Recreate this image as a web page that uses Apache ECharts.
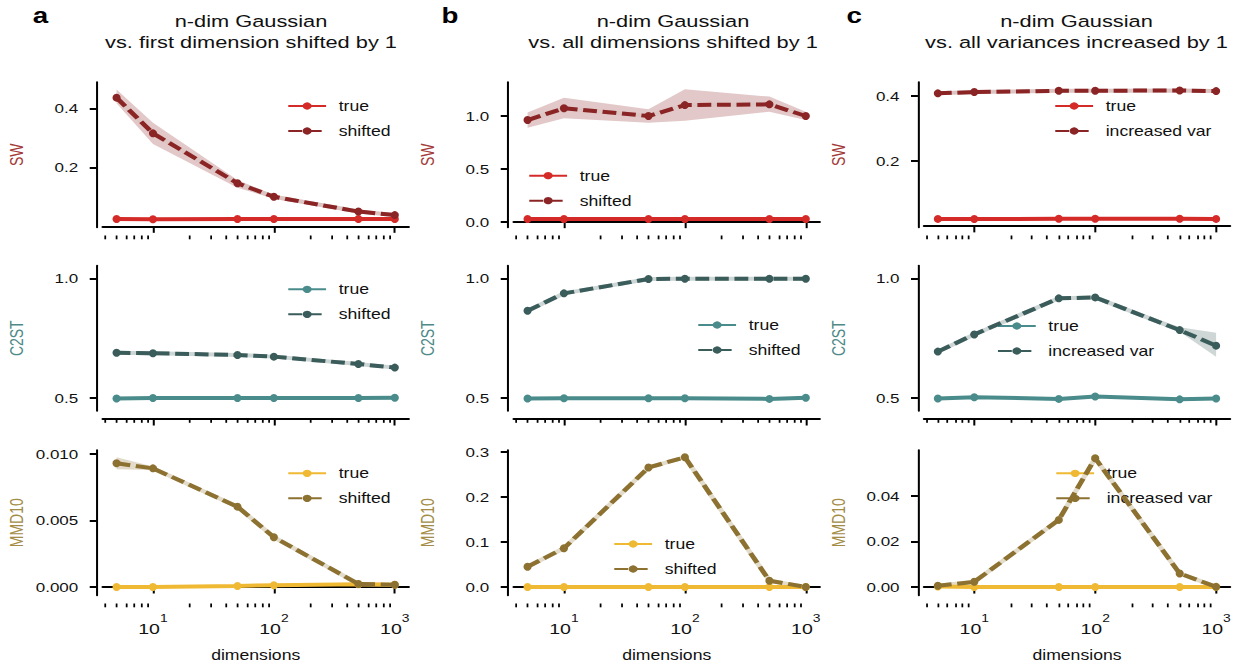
<!DOCTYPE html>
<html><head><meta charset="utf-8">
<script src="https://cdn.jsdelivr.net/npm/echarts@6/dist/echarts.min.js"></script>
<style>
html,body{margin:0;padding:0;background:#fff;overflow:hidden;}
#wrap{width:1239px;height:670px;overflow:hidden;position:relative;background:#fff;}
#chart{width:983px;height:670px;transform:scaleX(1.26043);transform-origin:0 0;}
</style></head><body><div id="wrap"><div id="chart"></div></div>
<script>
// ---------- data ----------
const dims = [5, 10, 50, 100, 500, 1000];
const majorTicks = [10, 100, 1000];
const minorTicks = [4,5,6,7,8,9,20,30,40,50,60,70,80,90,200,300,400,500,600,700,800,900];

const titles = [
  'n-dim Gaussian\nvs. first dimension shifted by 1',
  'n-dim Gaussian\nvs. all dimensions shifted by 1',
  'n-dim Gaussian\nvs. all variances increased by 1'
];
const panelLetters = ['a', 'b', 'c'];
const metricNames = ['SW', 'C2ST', 'MMD10'];
const legendLabels = [['true', 'shifted'], ['true', 'shifted'], ['true', 'increased var']];

// SW
const swTrueA = [0.025, 0.024, 0.025, 0.025, 0.025, 0.025];
const swShiftA = [0.436, 0.315, 0.146, 0.100, 0.050, 0.038];
const swShiftLoA = [0.417, 0.279, 0.131, 0.093, 0.045, 0.035];
const swShiftHiA = [0.464, 0.351, 0.157, 0.106, 0.054, 0.041];
const swTrueB = [0.025, 0.025, 0.025, 0.025, 0.025, 0.025];
const swShiftB = [0.959, 1.070, 0.997, 1.100, 1.107, 0.997];
const swShiftLoB = [0.887, 0.975, 0.934, 0.953, 1.038, 0.960];
const swShiftHiB = [1.030, 1.170, 1.060, 1.250, 1.180, 1.038];
const swTrueC = [0.0215, 0.021, 0.022, 0.022, 0.022, 0.0215];
const swIncC = [0.408, 0.412, 0.416, 0.416, 0.417, 0.415];
const swIncLoC = [0.404, 0.408, 0.412, 0.412, 0.413, 0.411];
const swIncHiC = [0.412, 0.416, 0.420, 0.420, 0.421, 0.419];
// C2ST
const c2stTrueA = [0.497, 0.499, 0.499, 0.499, 0.499, 0.500];
const c2stShiftA = [0.688, 0.686, 0.679, 0.672, 0.641, 0.626];
const c2stShiftLoA = [0.683, 0.682, 0.675, 0.668, 0.637, 0.621];
const c2stShiftHiA = [0.693, 0.690, 0.683, 0.676, 0.645, 0.631];
const c2stTrueB = [0.497, 0.498, 0.498, 0.498, 0.495, 0.500];
const c2stShiftB = [0.864, 0.937, 0.997, 0.998, 0.998, 0.998];
const c2stShiftLoB = [0.858, 0.932, 0.995, 0.997, 0.997, 0.997];
const c2stShiftHiB = [0.870, 0.942, 0.999, 0.999, 0.999, 0.999];
const c2stTrueC = [0.497, 0.502, 0.495, 0.505, 0.493, 0.497];
const c2stIncC = [0.693, 0.765, 0.916, 0.920, 0.783, 0.718];
const c2stIncLoC = [0.688, 0.760, 0.911, 0.915, 0.776, 0.672];
const c2stIncHiC = [0.698, 0.770, 0.921, 0.925, 0.795, 0.772];
// MMD10
const mmdTrueA = [0.0, 0.0, 0.00008, 0.00013, 0.0002, 0.00017];
const mmdShiftA = [0.0093, 0.00892, 0.00604, 0.00374, 0.00023, 0.00017];
const mmdShiftLoA = [0.00885, 0.0088, 0.00595, 0.00365, 0.0002, 0.00015];
const mmdShiftHiA = [0.00975, 0.00905, 0.00613, 0.00383, 0.00027, 0.0002];
const mmdTrueB = [0.0, 0.0, 0.0, 0.0, 0.0, 0.0];
const mmdShiftB = [0.045, 0.086, 0.265, 0.288, 0.014, 0.0];
const mmdShiftLoB = [0.043, 0.084, 0.262, 0.285, 0.012, 0.0];
const mmdShiftHiB = [0.047, 0.088, 0.268, 0.291, 0.016, 0.001];
const mmdTrueC = [0.0002, 0.0, 0.0, 0.0, 0.0, 0.0];
const mmdIncC = [0.0006, 0.0023, 0.0295, 0.0566, 0.006, 0.0001];
const mmdIncLoC = [0.0003, 0.0019, 0.0291, 0.0562, 0.0056, 0.0];
const mmdIncHiC = [0.0009, 0.0027, 0.0299, 0.0570, 0.0064, 0.0003];

// y tick labels
const swTicksA = [0.2, 0.4];
const swTicksB = [0.0, 0.5, 1.0];
const swTicksC = [0.2, 0.4];
const c2stTicks = [0.5, 1.0];
const mmdTicksA = [0.0, 0.005, 0.010];
const mmdTicksB = [0.0, 0.1, 0.2, 0.3];
const mmdTicksC = [0.0, 0.02, 0.04];

// ---------- layout / style ----------
const S = 1239 / 983;
const X = v => v / S;
const FONT = 'Liberation Sans, Arial, Helvetica, sans-serif';
const colLeft = [102.7, 513.7, 924];
const gridW = 306;
const rowTop = [82, 265.5, 450];
const gridH = 145.5;
const LW = 4;
const rowStyle = [
  {trueC: '#d42b28', shiftC: '#8b2424', band: 'rgba(139,36,36,0.25)', halo: '#dcc4c3', label: '#a33b38'},
  {trueC: '#4a8c8b', shiftC: '#3a5c5a', band: 'rgba(58,92,90,0.25)', halo: '#cdd6d5', label: '#4f8a89'},
  {trueC: '#f0b933', shiftC: '#8c7130', band: 'rgba(140,113,48,0.25)', halo: '#e3dccb', label: '#a38c45'}
];
const panels = [
  [
    {t: swTrueA, s: swShiftA, lo: swShiftLoA, hi: swShiftHiA, min: -0.004, max: 0.489, ticks: swTicksA, dec: 1, lg: [287, 106]},
    {t: swTrueB, s: swShiftB, lo: swShiftLoB, hi: swShiftHiB, min: -0.055, max: 1.318, ticks: swTicksB, dec: 1, lg: [528, 175.7]},
    {t: swTrueC, s: swIncC, lo: swIncLoC, hi: swIncHiC, min: -0.005, max: 0.443, ticks: swTicksC, dec: 1, lg: [1054, 106]}
  ],
  [
    {t: c2stTrueA, s: c2stShiftA, lo: c2stShiftLoA, hi: c2stShiftHiA, min: 0.4443, max: 1.0536, ticks: c2stTicks, dec: 1, lg: [287, 289.3]},
    {t: c2stTrueB, s: c2stShiftB, lo: c2stShiftLoB, hi: c2stShiftHiB, min: 0.4443, max: 1.0536, ticks: c2stTicks, dec: 1, lg: [697, 325]},
    {t: c2stTrueC, s: c2stIncC, lo: c2stIncLoC, hi: c2stIncHiC, min: 0.4443, max: 1.0536, ticks: c2stTicks, dec: 1, lg: [996.7, 326]}
  ],
  [
    {t: mmdTrueA, s: mmdShiftA, lo: mmdShiftLoA, hi: mmdShiftHiA, min: -0.00064, max: 0.0103, ticks: mmdTicksA, dec: 3, lg: [287, 473.3]},
    {t: mmdTrueB, s: mmdShiftB, lo: mmdShiftLoB, hi: mmdShiftHiB, min: -0.0189, max: 0.304, ticks: mmdTicksB, dec: 1, lg: [613, 544]},
    {t: mmdTrueC, s: mmdIncC, lo: mmdIncLoC, hi: mmdIncHiC, min: -0.0037, max: 0.0602, ticks: mmdTicksC, dec: 2, lg: [1055, 473.3]}
  ]
];
const titleCenters = [251, 673, 1076.5];
const letterCenters = [40.5, 450, 854.3];

const grid = [], xAxis = [], yAxis = [], series = [], legend = [], graphic = [];
const pairs = arr => dims.map((d, i) => [d, arr[i]]);

function bandSeries(k, lo, hi, color) {
  return {
    type: 'custom', xAxisIndex: 2 * k, yAxisIndex: k, silent: true, z: 1,
    data: dims.map((d, i) => [d, lo[i], hi[i]]),
    encode: {x: 0, y: [1, 2]},
    renderItem: (params, api) => {
      if (params.dataIndex !== 0) return null;
      const top = dims.map((d, i) => api.coord([d, hi[i]]));
      const bot = dims.map((d, i) => api.coord([d, lo[i]])).reverse();
      return {type: 'polygon', shape: {points: top.concat(bot)}, style: {fill: color}};
    }
  };
}

for (let r = 0; r < 3; r++) {
  for (let c = 0; c < 3; c++) {
    const k = r * 3 + c;
    const p = panels[r][c];
    const st = rowStyle[r];
    grid.push({left: X(colLeft[c]), top: rowTop[r], width: X(gridW), height: gridH});
    const baseX = {
      type: 'log', logBase: 10, min: 3.84, max: 1303, gridIndex: k, position: 'bottom', offset: 8,
      splitLine: {show: false}
    };
    xAxis.push(Object.assign({}, baseX, {
      axisLine: {show: true, lineStyle: {color: '#000', width: 2}},
      axisTick: {show: true, customValues: majorTicks, length: 6.5, lineStyle: {color: '#000', width: 1.6}},
      axisLabel: {
        show: r === 2, customValues: majorTicks, margin: 9,
        formatter: v => '{b|10}{s|' + Math.round(Math.log10(v)) + '}',
        rich: {
          b: {fontSize: 15.5, fontFamily: FONT, color: '#111', verticalAlign: 'bottom', lineHeight: 24},
          s: {fontSize: 11, fontFamily: FONT, color: '#111', verticalAlign: 'top', lineHeight: 24}
        }
      },
      name: r === 2 ? 'dimensions' : '', nameLocation: 'middle', nameGap: 45,
      nameTextStyle: {fontSize: 14, fontFamily: FONT, color: '#111'}
    }));
    xAxis.push(Object.assign({}, baseX, {
      axisLine: {show: false},
      axisTick: {show: true, customValues: minorTicks, length: 3.8, lineStyle: {color: '#000', width: 1.4}},
      axisLabel: {show: false}
    }));
    yAxis.push({
      type: 'value', gridIndex: k, min: p.min, max: p.max, position: 'left', offset: 4.8,
      splitLine: {show: false},
      axisLine: {show: true, lineStyle: {color: '#000', width: 1.6}},
      axisTick: {show: true, customValues: p.ticks, length: 5.5, lineStyle: {color: '#000', width: 2}},
      axisLabel: {customValues: p.ticks, formatter: v => Number(v).toFixed(p.dec), margin: 14.6,
        fontSize: 13.5, fontFamily: FONT, color: '#111'},
      name: metricNames[r], nameLocation: 'middle', nameGap: 56,
      nameTextStyle: {fontSize: 14, fontFamily: FONT, color: st.label}
    });
    const xi = k * 2;
    const sym = {symbol: 'circle', symbolSize: [6.4, 8]};
    series.push(bandSeries(k, p.lo, p.hi, st.band));
    series.push({type: 'line', xAxisIndex: xi, yAxisIndex: k, data: pairs(p.s), symbol: 'none',
      lineStyle: {color: st.halo, width: LW}, silent: true, z: 2, name: 'halo' + k});
    series.push(Object.assign({type: 'line', xAxisIndex: xi, yAxisIndex: k, data: pairs(p.t),
      name: 'true|' + k, color: st.trueC, itemStyle: {color: st.trueC},
      lineStyle: {color: st.trueC, width: LW}, z: 3}, sym));
    series.push(Object.assign({type: 'line', xAxisIndex: xi, yAxisIndex: k, data: pairs(p.s),
      name: legendLabels[c][1] + '|' + k, color: st.shiftC, itemStyle: {color: st.shiftC},
      lineStyle: {color: st.shiftC, width: LW, type: [11, 4.5]}, z: 4}, sym));
    legend.push({
      orient: 'vertical', left: X(p.lg[0]), top: p.lg[1] - 7, itemWidth: 30, itemHeight: 9, itemGap: 11,
      selectedMode: false, padding: 0,
      data: ['true|' + k, legendLabels[c][1] + '|' + k],
      formatter: n => n.split('|')[0],
      textStyle: {fontSize: 14, fontFamily: FONT, color: '#111', padding: [0, 0, 0, 5]}
    });
  }
}
for (let c = 0; c < 3; c++) {
  graphic.push({type: 'text', x: X(titleCenters[c]), y: 10.5, style: {
    text: titles[c], fontSize: 17.3, fontFamily: FONT, fill: '#111', lineHeight: 20.7,
    align: 'center', textAlign: 'center', verticalAlign: 'top', textVerticalAlign: 'top'}});
  graphic.push({type: 'text', x: X(letterCenters[c]), y: 15, style: {
    text: panelLetters[c], fontSize: 22, fontWeight: 'bold', fontFamily: FONT, fill: '#000',
    align: 'center', textAlign: 'center', verticalAlign: 'middle', textVerticalAlign: 'middle'}});
}

const chart = echarts.init(document.getElementById('chart'), null, {renderer: 'svg'});
chart.setOption({
  animation: false, backgroundColor: '#fff',
  grid, xAxis, yAxis, series, legend, graphic
});
</script></body></html>
